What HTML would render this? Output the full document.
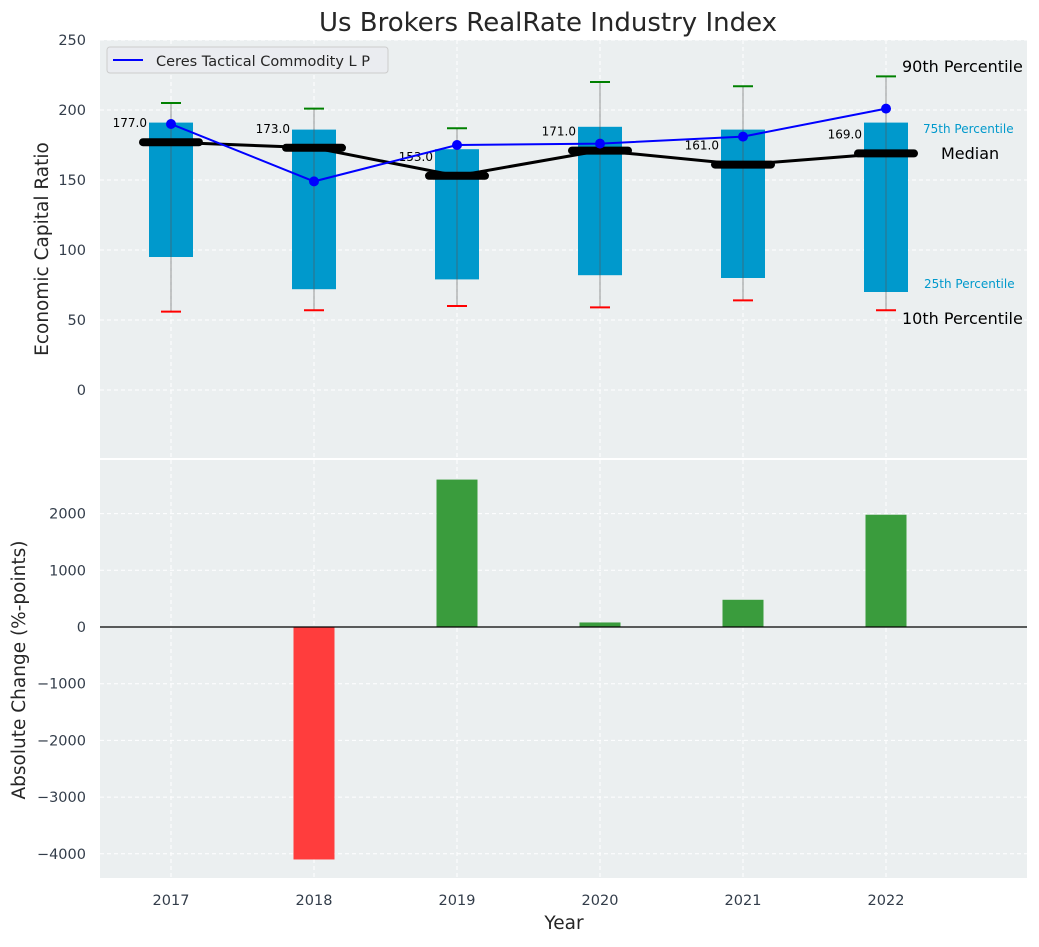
<!DOCTYPE html>
<html><head><meta charset="utf-8"><style>
body{margin:0;background:#fff;font-family:"Liberation Sans","DejaVu Sans",sans-serif}
svg text{font-family:"DejaVu Sans","Liberation Sans",sans-serif}
</style></head><body>
<svg id="chart" width="1039" height="942" xmlns="http://www.w3.org/2000/svg"></svg>
<script>
const years=[2017,2018,2019,2020,2021,2022];
const q1=[95,72,79,82,80,70];
const q3=[191,186,172,188,186,191];
const p10=[56,57,60,59,64,57];
const p90=[205,201,187,220,217,224];
const medians=[177,173,153,171,161,169];
const company=[190,149,175,176,181,201];
const changes=[0,-4100,2600,80,480,1980];
const topTicks=[0,50,100,150,200,250];
const botTicks=[-4000,-3000,-2000,-1000,0,1000,2000];

const svg=document.getElementById('chart');
const NS='http://www.w3.org/2000/svg';
function el(tag,attrs,parent){const e=document.createElementNS(NS,tag);for(const k in attrs)e.setAttribute(k,attrs[k]);(parent||svg).appendChild(e);return e;}
const L=100,R=1027;
const xs=y=>171+(y-2017)*143;
const yTop=v=>390-v*1.4;
const yBot=v=>627-v*0.0567;

let t=el('text',{x:548,y:31,'text-anchor':'middle','font-size':26,fill:'#262626'});t.textContent='Us Brokers RealRate Industry Index';



let p=el('rect',{x:L,y:40,width:R-L,height:418,fill:'#ebeff0'});


p=el('rect',{x:L,y:460,width:R-L,height:418,fill:'#ebeff0'});



years.forEach(y=>{
 el('line',{x1:xs(y),x2:xs(y),y1:40,y2:458,stroke:'#fff','stroke-dasharray':'4 3','stroke-width':1});
 el('line',{x1:xs(y),x2:xs(y),y1:460,y2:878,stroke:'#fff','stroke-dasharray':'4 3','stroke-width':1});
 let tx=el('text',{x:xs(y),y:905,'text-anchor':'middle','font-size':14.5,fill:'#333d4a'});tx.textContent=y;
 
 
});
topTicks.forEach(v=>{
 el('line',{x1:L,x2:R,y1:yTop(v),y2:yTop(v),stroke:'#fff','stroke-dasharray':'4 3'});
 let tx=el('text',{x:86,y:yTop(v)+5,'text-anchor':'end','font-size':14.5,fill:'#333d4a'});tx.textContent=v;
 
 
});
botTicks.forEach(v=>{
 el('line',{x1:L,x2:R,y1:yBot(v),y2:yBot(v),stroke:'#fff','stroke-dasharray':'4 3'});
 let tx=el('text',{x:86,y:yBot(v)+5,'text-anchor':'end','font-size':14.5,fill:'#333d4a'});tx.textContent=(v<0?'\u2212'+(-v):v);
 
 
});

years.forEach((y,i)=>{
 const x=xs(y);
 let b=el('rect',{x:x-22,y:yTop(q3[i]),width:44,height:yTop(q1[i])-yTop(q3[i]),fill:'#0099cc'});
 
 
 el('line',{x1:x,x2:x,y1:yTop(p10[i]),y2:yTop(p90[i]),stroke:'#555','stroke-opacity':0.6,'stroke-width':1});
 el('line',{x1:x-10,x2:x+10,y1:yTop(p90[i]),y2:yTop(p90[i]),stroke:'green','stroke-width':2});
 el('line',{x1:x-10,x2:x+10,y1:yTop(p10[i]),y2:yTop(p10[i]),stroke:'red','stroke-width':2});
});
el('polyline',{points:years.map((y,i)=>xs(y)+','+yTop(medians[i])).join(' '),fill:'none',stroke:'#000','stroke-width':3});
years.forEach((y,i)=>{
 const x=xs(y);
 let m=el('line',{x1:x-28,x2:x+28,y1:yTop(medians[i]),y2:yTop(medians[i]),stroke:'#000','stroke-width':8,'stroke-linecap':'round'});
 
 
 let tx=el('text',{x:x-24,y:yTop(medians[i])-15,'text-anchor':'end','font-size':12,fill:'#000'});tx.textContent=medians[i].toFixed(1);
 
 
});
el('polyline',{points:years.map((y,i)=>xs(y)+','+yTop(company[i])).join(' '),fill:'none',stroke:'#0000ff','stroke-width':2});
years.forEach((y,i)=>{
 let c=el('circle',{cx:xs(y),cy:yTop(company[i]),r:5,fill:'#0000ff'});
 
 
});
[['90th Percentile',902,72,16,'#000'],['75th Percentile',923,133,12,'#0099cc'],['Median',941,159,16,'#000'],['25th Percentile',924,288,12,'#0099cc'],['10th Percentile',902,324,16,'#000']].forEach(a=>{
 let tx=el('text',{x:a[1],y:a[2],'font-size':a[3],fill:a[4]});tx.textContent=a[0];
 
 
});
let lg=el('g',{});


el('rect',{x:107,y:47,width:281,height:26,rx:3,fill:'#eaecf0',stroke:'#ccc'},lg);
el('line',{x1:113,x2:143,y1:60,y2:60,stroke:'#0000ff','stroke-width':2},lg);
t=el('text',{x:156,y:66,'font-size':14.5,fill:'#262626'},lg);t.textContent='Ceres Tactical Commodity L P';

years.forEach((y,i)=>{
 const x=xs(y),v=changes[i];
 let b=el('rect',{x:x-20.5,y:Math.min(yBot(v),yBot(0)),width:41,height:Math.abs(yBot(v)-yBot(0)),fill:v<0?'#ff3d3d':'#3a9c3d'});
 
 
});
el('line',{x1:L,x2:R,y1:yBot(0),y2:yBot(0),stroke:'#000','stroke-width':1.2});

t=el('text',{transform:'translate(48,249) rotate(-90)','text-anchor':'middle','font-size':18.5,fill:'#262626'});t.textContent='Economic Capital Ratio';


t=el('text',{transform:'translate(25,670) rotate(-90)','text-anchor':'middle','font-size':18.5,fill:'#262626'});t.textContent='Absolute Change (%-points)';


t=el('text',{x:564,y:929,'text-anchor':'middle','font-size':18.5,fill:'#262626'});t.textContent='Year';


</script>
</body></html>
